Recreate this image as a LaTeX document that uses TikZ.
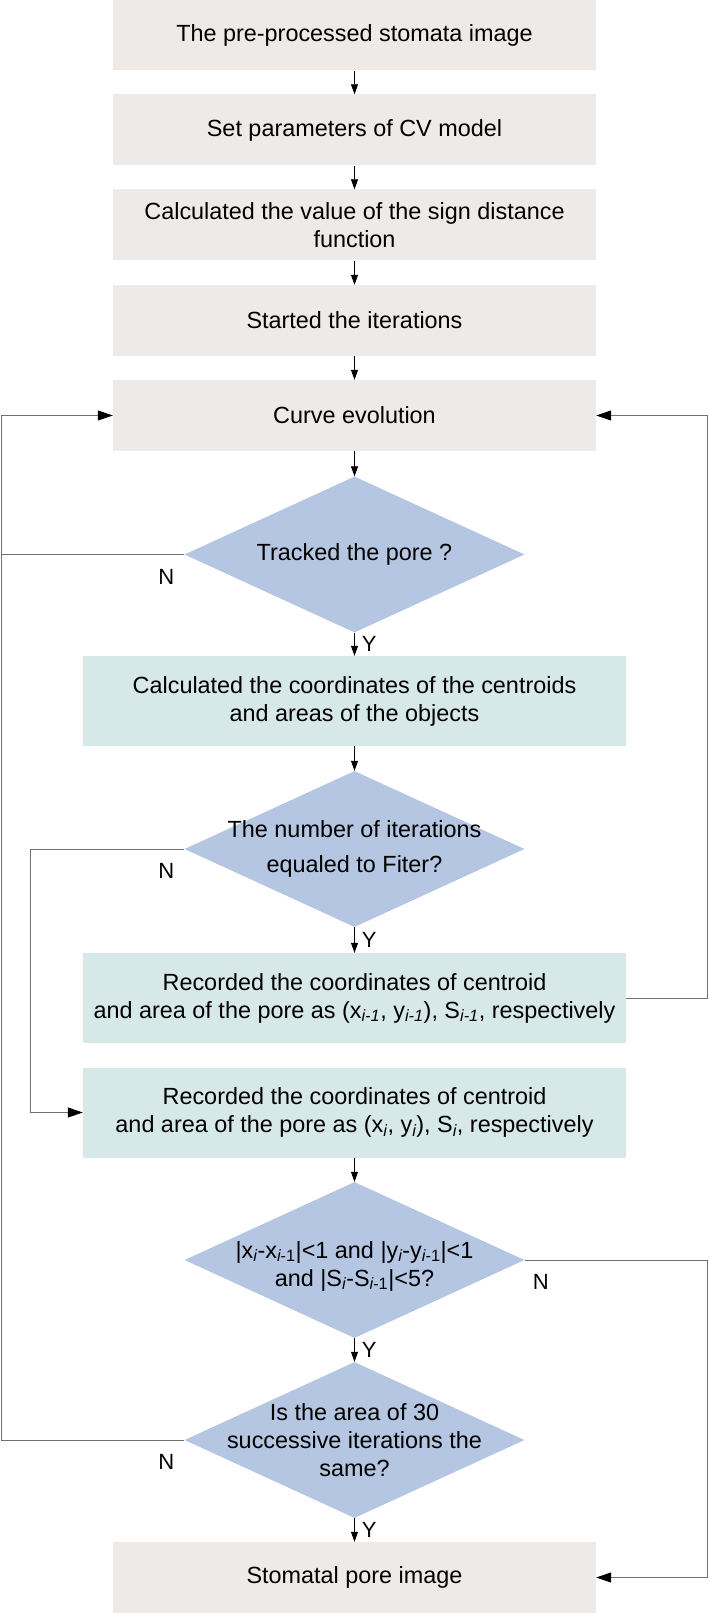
\documentclass[tikz,border=0pt]{standalone}
\usepackage{fontspec}
\setmainfont{Liberation Sans}
\usetikzlibrary{shapes.geometric,arrows.meta}
\definecolor{boxgray}{HTML}{EEEAE7}
\definecolor{boxteal}{HTML}{D7E8E8}
\definecolor{dblue}{HTML}{B4C6E1}
\definecolor{linegray}{HTML}{707070}
\newcommand{\mysub}[1]{\textsubscript{\itshape #1}}
\newcommand{\mysubb}{\textsubscript{{\itshape i}-1}}
\begin{document}
\begin{tikzpicture}[x=1pt,y=-1pt,
  every node/.style={font=\fontsize{23.4}{28}\selectfont},
  graybox/.style={fill=boxgray, minimum width=483pt, minimum height=71pt, inner sep=0pt, align=center},
  tealbox/.style={fill=boxteal, minimum width=543pt, minimum height=90pt, inner sep=0pt, align=center},
  decision/.style={diamond, fill=dblue, minimum width=340pt, minimum height=156pt, inner sep=0pt},
  flow/.style={-{Triangle[length=10pt,width=7pt]}, line width=0.8pt, black},
  loopline/.style={line width=1pt, linegray},
  looparrow/.style={loopline, -{Triangle[length=15pt,width=10pt,fill=black,color=black]}},
  lbl/.style={font=\fontsize{22}{26}\selectfont, inner sep=0pt}
]
\useasboundingbox (0,0) rectangle (709,1613);
\coordinate (L) at (1.5,0);
\coordinate (L2) at (30,0);
\coordinate (R) at (707.5,0);

\node[graybox] (b1) at (354.5,35) {The pre-processed stomata image};
\node[graybox] (b2) at (354.5,130) {Set parameters of CV model};
\node[graybox] (b3) at (354.5,225) {Calculated the value of the sign distance\\function};
\node[graybox] (b4) at (354.5,320.5) {Started the iterations};
\node[graybox] (b5) at (354.5,415.5) {Curve evolution};
\node[decision, label={[align=center]center:Tracked the pore ?}] (d1) at (354.5,554.5) {};
\node[tealbox] (b6) at (354.5,701) {Calculated the coordinates of the centroids\\and areas of the objects};
\node[decision, label={[align=center]center:The number of iterations\\[7pt]equaled to Fiter?}] (d2) at (354.5,849) {};
\node[tealbox] (b7) at (354.5,998) {Recorded the coordinates of centroid\\and area of the pore as (x\mysub{i-1}, y\mysub{i-1}), S\mysub{i-1}, respectively};
\node[tealbox] (b8) at (354.5,1112.5) {Recorded the coordinates of centroid\\and area of the pore as (x\mysub{i}, y\mysub{i}), S\mysub{i}, respectively};
\node[decision, label={[align=center,yshift=-6pt]center:|x\mysub{i}-x\mysubb|<1 and |y\mysub{i}-y\mysubb|<1\\and |S\mysub{i}-S\mysubb|<5?}] (d3) at (354.5,1260) {};
\node[decision, label={[align=center]center:Is the area of 30\\successive iterations the\\same?}] (d4) at (354.5,1440) {};
\node[graybox] (b9) at (354.5,1577.5) {Stomatal pore image};

\draw[flow] (b1) -- (b2);
\draw[flow] (b2) -- (b3);
\draw[flow] (b3) -- (b4);
\draw[flow] (b4) -- (b5);
\draw[flow] (b5) -- (d1);
\draw[flow] (d1) -- node[lbl, right=7pt] (y1) {Y} (b6);
\draw[flow] (b6) -- (d2);
\draw[flow] (d2) -- node[lbl, right=7pt] (y2) {Y} (b7);
\draw[flow] (b8) -- (d3);
\draw[flow] (d3) -- node[lbl, right=7pt] (y3) {Y} (d4);
\draw[flow] (d4) -- node[lbl, right=7pt] (y4) {Y} (b9);

\draw[loopline] (d1.west) -- (d1.west -| L);
\draw[looparrow] (d4.west) -- (d4.west -| L) |- (b5.west);
\draw[looparrow] (d2.west) -- (d2.west -| L2) |- (b8.west);
\draw[looparrow] (b7.east) -- (b7.east -| R) |- (b5.east);
\draw[looparrow] (d3.east) -- (d3.east -| R) |- (b9.east);

\node[lbl] (n1) at ([xshift=-18pt,yshift=-22pt]d1.west) {N};
\node[lbl] (n2) at ([xshift=-18pt,yshift=-22pt]d2.west) {N};
\node[lbl] (n3) at ([xshift=16pt,yshift=-22pt]d3.east) {N};
\node[lbl] (n4) at ([xshift=-18pt,yshift=-22pt]d4.west) {N};
\end{tikzpicture}
\end{document}
